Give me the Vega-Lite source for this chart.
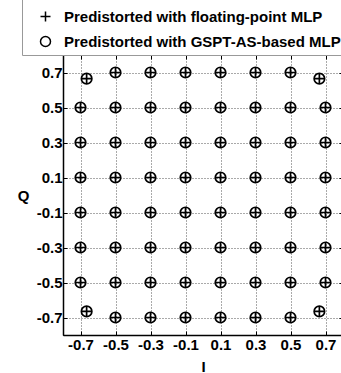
{
"$schema":"https://vega.github.io/schema/vega-lite/v6.json",
"width":280,"height":280,
"autosize":{"type":"none"},
"padding":{"left":63,"top":55,"right":0,"bottom":38},
"background":"white",
"config":{"view":{"stroke":"black","strokeWidth":1},"font":"Liberation Sans"},
"data":{"values":[
{"s":"F","I":-0.665,"Q":0.665},{"s":"F","I":-0.5,"Q":0.7},{"s":"F","I":-0.3,"Q":0.7},{"s":"F","I":-0.1,"Q":0.7},{"s":"F","I":0.1,"Q":0.7},{"s":"F","I":0.3,"Q":0.7},{"s":"F","I":0.5,"Q":0.7},{"s":"F","I":0.665,"Q":0.665},
{"s":"F","I":-0.7,"Q":0.5},{"s":"F","I":-0.5,"Q":0.5},{"s":"F","I":-0.3,"Q":0.5},{"s":"F","I":-0.1,"Q":0.5},{"s":"F","I":0.1,"Q":0.5},{"s":"F","I":0.3,"Q":0.5},{"s":"F","I":0.5,"Q":0.5},{"s":"F","I":0.7,"Q":0.5},
{"s":"F","I":-0.7,"Q":0.3},{"s":"F","I":-0.5,"Q":0.3},{"s":"F","I":-0.3,"Q":0.3},{"s":"F","I":-0.1,"Q":0.3},{"s":"F","I":0.1,"Q":0.3},{"s":"F","I":0.3,"Q":0.3},{"s":"F","I":0.5,"Q":0.3},{"s":"F","I":0.7,"Q":0.3},
{"s":"F","I":-0.7,"Q":0.1},{"s":"F","I":-0.5,"Q":0.1},{"s":"F","I":-0.3,"Q":0.1},{"s":"F","I":-0.1,"Q":0.1},{"s":"F","I":0.1,"Q":0.1},{"s":"F","I":0.3,"Q":0.1},{"s":"F","I":0.5,"Q":0.1},{"s":"F","I":0.7,"Q":0.1},
{"s":"F","I":-0.7,"Q":-0.1},{"s":"F","I":-0.5,"Q":-0.1},{"s":"F","I":-0.3,"Q":-0.1},{"s":"F","I":-0.1,"Q":-0.1},{"s":"F","I":0.1,"Q":-0.1},{"s":"F","I":0.3,"Q":-0.1},{"s":"F","I":0.5,"Q":-0.1},{"s":"F","I":0.7,"Q":-0.1},
{"s":"F","I":-0.7,"Q":-0.3},{"s":"F","I":-0.5,"Q":-0.3},{"s":"F","I":-0.3,"Q":-0.3},{"s":"F","I":-0.1,"Q":-0.3},{"s":"F","I":0.1,"Q":-0.3},{"s":"F","I":0.3,"Q":-0.3},{"s":"F","I":0.5,"Q":-0.3},{"s":"F","I":0.7,"Q":-0.3},
{"s":"F","I":-0.7,"Q":-0.5},{"s":"F","I":-0.5,"Q":-0.5},{"s":"F","I":-0.3,"Q":-0.5},{"s":"F","I":-0.1,"Q":-0.5},{"s":"F","I":0.1,"Q":-0.5},{"s":"F","I":0.3,"Q":-0.5},{"s":"F","I":0.5,"Q":-0.5},{"s":"F","I":0.7,"Q":-0.5},
{"s":"F","I":-0.665,"Q":-0.665},{"s":"F","I":-0.5,"Q":-0.7},{"s":"F","I":-0.3,"Q":-0.7},{"s":"F","I":-0.1,"Q":-0.7},{"s":"F","I":0.1,"Q":-0.7},{"s":"F","I":0.3,"Q":-0.7},{"s":"F","I":0.5,"Q":-0.7},{"s":"F","I":0.665,"Q":-0.665},
{"s":"G","I":-0.665,"Q":0.665},{"s":"G","I":-0.5,"Q":0.7},{"s":"G","I":-0.3,"Q":0.7},{"s":"G","I":-0.1,"Q":0.7},{"s":"G","I":0.1,"Q":0.7},{"s":"G","I":0.3,"Q":0.7},{"s":"G","I":0.5,"Q":0.7},{"s":"G","I":0.665,"Q":0.665},
{"s":"G","I":-0.7,"Q":0.5},{"s":"G","I":-0.5,"Q":0.5},{"s":"G","I":-0.3,"Q":0.5},{"s":"G","I":-0.1,"Q":0.5},{"s":"G","I":0.1,"Q":0.5},{"s":"G","I":0.3,"Q":0.5},{"s":"G","I":0.5,"Q":0.5},{"s":"G","I":0.7,"Q":0.5},
{"s":"G","I":-0.7,"Q":0.3},{"s":"G","I":-0.5,"Q":0.3},{"s":"G","I":-0.3,"Q":0.3},{"s":"G","I":-0.1,"Q":0.3},{"s":"G","I":0.1,"Q":0.3},{"s":"G","I":0.3,"Q":0.3},{"s":"G","I":0.5,"Q":0.3},{"s":"G","I":0.7,"Q":0.3},
{"s":"G","I":-0.7,"Q":0.1},{"s":"G","I":-0.5,"Q":0.1},{"s":"G","I":-0.3,"Q":0.1},{"s":"G","I":-0.1,"Q":0.1},{"s":"G","I":0.1,"Q":0.1},{"s":"G","I":0.3,"Q":0.1},{"s":"G","I":0.5,"Q":0.1},{"s":"G","I":0.7,"Q":0.1},
{"s":"G","I":-0.7,"Q":-0.1},{"s":"G","I":-0.5,"Q":-0.1},{"s":"G","I":-0.3,"Q":-0.1},{"s":"G","I":-0.1,"Q":-0.1},{"s":"G","I":0.1,"Q":-0.1},{"s":"G","I":0.3,"Q":-0.1},{"s":"G","I":0.5,"Q":-0.1},{"s":"G","I":0.7,"Q":-0.1},
{"s":"G","I":-0.7,"Q":-0.3},{"s":"G","I":-0.5,"Q":-0.3},{"s":"G","I":-0.3,"Q":-0.3},{"s":"G","I":-0.1,"Q":-0.3},{"s":"G","I":0.1,"Q":-0.3},{"s":"G","I":0.3,"Q":-0.3},{"s":"G","I":0.5,"Q":-0.3},{"s":"G","I":0.7,"Q":-0.3},
{"s":"G","I":-0.7,"Q":-0.5},{"s":"G","I":-0.5,"Q":-0.5},{"s":"G","I":-0.3,"Q":-0.5},{"s":"G","I":-0.1,"Q":-0.5},{"s":"G","I":0.1,"Q":-0.5},{"s":"G","I":0.3,"Q":-0.5},{"s":"G","I":0.5,"Q":-0.5},{"s":"G","I":0.7,"Q":-0.5},
{"s":"G","I":-0.665,"Q":-0.665},{"s":"G","I":-0.5,"Q":-0.7},{"s":"G","I":-0.3,"Q":-0.7},{"s":"G","I":-0.1,"Q":-0.7},{"s":"G","I":0.1,"Q":-0.7},{"s":"G","I":0.3,"Q":-0.7},{"s":"G","I":0.5,"Q":-0.7},{"s":"G","I":0.665,"Q":-0.665}
]},
"layer":[
{"transform":[{"filter":"datum.s == 'F'"}],
 "mark":{"type":"point","filled":false,"stroke":"black","strokeWidth":1.7,"size":110,"opacity":1},
 "encoding":{
  "x":{"field":"I","type":"quantitative","scale":{"domain":[-0.8,0.8],"nice":false,"zero":false},
   "axis":{"orient":"bottom","values":[-0.7,-0.5,-0.3,-0.1,0.1,0.3,0.5,0.7],"labelExpr":"toString(datum.value)","labelFont":"Liberation Sans","labelFontWeight":"bold","labelFontSize":15,"labelColor":"black","labelPadding":6,"ticks":true,"tickSize":-4,"tickColor":"black","domainColor":"black","domainWidth":1.5,"grid":true,"gridColor":"#555","gridDash":[1,2],"gridWidth":1,"gridOpacity":1,"title":"I","titleFont":"Liberation Sans","titleFontWeight":"bold","titleFontSize":15,"titleColor":"black","titlePadding":7}},
  "y":{"field":"Q","type":"quantitative","scale":{"domain":[-0.8,0.8],"nice":false,"zero":false},
   "axis":{"orient":"left","values":[-0.7,-0.5,-0.3,-0.1,0.1,0.3,0.5,0.7],"labelExpr":"toString(datum.value)","labelFont":"Liberation Sans","labelFontWeight":"bold","labelFontSize":15,"labelColor":"black","labelPadding":5,"ticks":true,"tickSize":-4,"tickColor":"black","domainColor":"black","domainWidth":1.5,"grid":true,"gridColor":"#555","gridDash":[1,2],"gridWidth":1,"gridOpacity":1,"title":"Q","titleAngle":0,"titleX":-40,"titleY":140,"titleAlign":"center","titleBaseline":"middle","titleFont":"Liberation Sans","titleFontWeight":"bold","titleFontSize":15,"titleColor":"black"}},
  "shape":{"field":"s","type":"nominal","scale":{"domain":["F","G"],"range":["M-1,0H1M0,-1V1","circle"]},
   "legend":{"orient":"none","legendX":-41,"legendY":-61,"title":" ","titleFontSize":10,"titlePadding":0,"labelExpr":"datum.label == 'F' ? 'Predistorted with floating-point MLP' : 'Predistorted with GSPT-AS-based MLP'","labelFont":"Liberation Sans","labelFontWeight":"bold","labelFontSize":15,"labelLimit":400,"labelColor":"black","labelOffset":11,"symbolOffset":11,"symbolSize":100,"symbolStrokeColor":"black","symbolFillColor":"transparent","symbolStrokeWidth":1.5,"rowPadding":8,"padding":5,"fillColor":"white","strokeColor":"#999"}}
 }},
{"transform":[{"filter":"datum.s == 'G'"}],
 "mark":{"type":"point","filled":false,"stroke":"black","strokeWidth":1.7,"size":110,"opacity":1},
 "encoding":{
  "x":{"field":"I","type":"quantitative","axis":{"orient":"top","values":[-0.7,-0.5,-0.3,-0.1,0.1,0.3,0.5,0.7],"labels":false,"title":null,"grid":false,"domain":false,"ticks":true,"tickSize":-4,"tickColor":"black"}},
  "y":{"field":"Q","type":"quantitative","axis":{"orient":"right","values":[-0.7,-0.5,-0.3,-0.1,0.1,0.3,0.5,0.7],"labels":false,"title":null,"grid":false,"domain":false,"ticks":true,"tickSize":-4,"tickColor":"black"}},
  "shape":{"field":"s","type":"nominal"}
 }}
],
"resolve":{"axis":{"x":"independent","y":"independent"}}
}
